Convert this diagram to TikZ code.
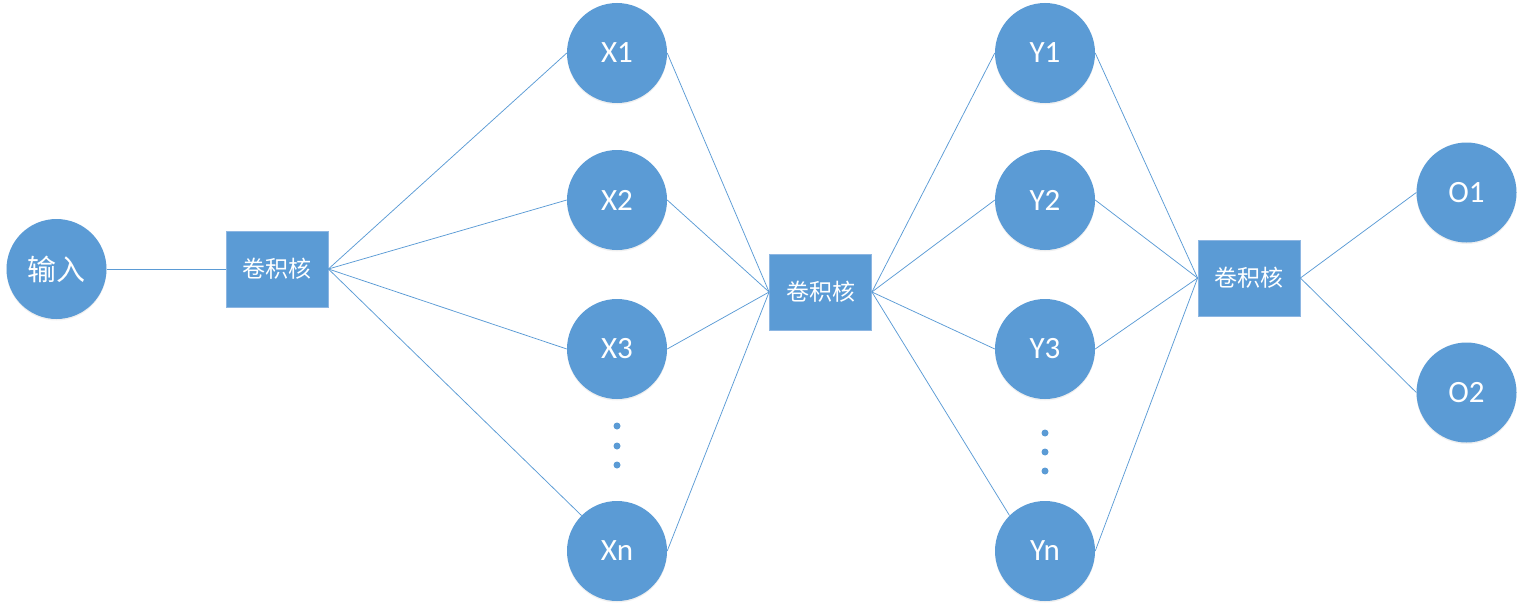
\documentclass[tikz,border=0pt]{standalone}
\usepackage{fontspec}
\setmainfont{Carlito}
\newfontfamily\cjk{Noto Sans CJK SC}
\usetikzlibrary{shadows}
\definecolor{nb}{HTML}{5B9BD5}
\definecolor{nbedge}{HTML}{8DB6E2}
\begin{document}
\begin{tikzpicture}[x=1pt,y=-1pt,
  neuron/.style={circle,fill=nb,minimum size=100pt,inner sep=0pt,text=white,
    font=\fontsize{31}{31}\selectfont,
    drop shadow={opacity=0.12,shadow xshift=0pt,shadow yshift=-1.5pt}},
  kernel/.style={rectangle,fill=nb,draw=nbedge,line width=0.8pt,minimum width=102pt,
    minimum height=76pt,inner sep=0pt,text=white,font=\cjk\fontsize{23}{23}\selectfont},
  link/.style={draw=nb,line width=0.75pt},
  vdot/.style={circle,fill=nb,minimum size=7pt,inner sep=0pt}]
\useasboundingbox (0,0) rectangle (1523,610);
% nodes
\node[neuron,font=\cjk\fontsize{29}{29}\selectfont] (in) at (56.5,269) {输入};
\node[kernel] (k1) at (277,269) {卷积核};
\node[neuron] (x1) at (617,53) {X1};
\node[neuron] (x2) at (617,200) {X2};
\node[neuron] (x3) at (617,349) {X3};
\node[neuron] (xn) at (617,551) {Xn};
\node[vdot] (xd1) at (617,426) {};
\node[vdot] (xd2) at (617,446) {};
\node[vdot] (xd3) at (617,465) {};
\node[kernel] (k2) at (820.5,292) {卷积核};
\node[neuron] (y1) at (1045,53) {Y1};
\node[neuron] (y2) at (1045,200) {Y2};
\node[neuron] (y3) at (1045,349) {Y3};
\node[neuron] (yn) at (1045,551) {Yn};
\node[vdot] (yd1) at (1045,433) {};
\node[vdot] (yd2) at (1045,452) {};
\node[vdot] (yd3) at (1045,471) {};
\node[kernel] (k3) at (1249,278) {卷积核};
\node[neuron] (o1) at (1466.5,192.5) {O1};
\node[neuron] (o2) at (1466.5,392.5) {O2};
% connectors
\draw[link] (in.east) -- (k1.west);
\foreach \t in {x1,x2,x3} {\draw[link] (k1.east) -- (\t.west);}
\draw[link] (k1.east) -- (xn.north west);
\foreach \t in {x1,x2,x3,xn} {\draw[link] (\t.east) -- (k2.west);}
\foreach \t in {y1,y2,y3} {\draw[link] (k2.east) -- (\t.west);}
\draw[link] (k2.east) -- (yn.north west);
\foreach \t in {y1,y2,y3,yn} {\draw[link] (\t.east) -- (k3.west);}
\draw[link] (k3.east) -- (o1.west);
\draw[link] (k3.east) -- (o2.west);
\end{tikzpicture}
\end{document}
